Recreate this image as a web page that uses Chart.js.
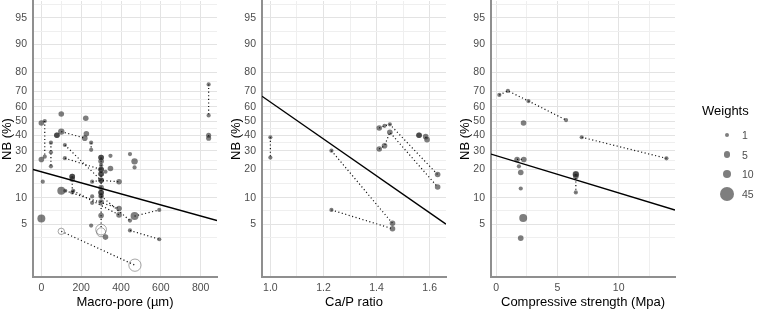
<!DOCTYPE html>
<html><head><meta charset="utf-8">
<script src="https://cdn.jsdelivr.net/npm/chart.js@4.4.0/dist/chart.umd.min.js"></script>
<style>
html,body{margin:0;padding:0;background:#fff;width:764px;height:310px;overflow:hidden;font-family:"Liberation Sans",Arial,sans-serif}
canvas{position:absolute;top:0}
#legend{position:absolute;left:0;top:0;width:764px;height:310px;opacity:0.995}
.lt{position:absolute;font-size:13px;color:#000;line-height:16px;white-space:nowrap}
.li{position:absolute;font-size:10.5px;color:#4d4d4d;line-height:12px;white-space:nowrap}
.dot{position:absolute;border-radius:50%;background:rgba(40,40,40,0.6)}
</style></head>
<body>
<canvas id="c1" width="229" height="310" style="left:0"></canvas>
<canvas id="c2" width="229" height="310" style="left:229px"></canvas>
<canvas id="c3" width="229" height="310" style="left:458px"></canvas>
<div id="legend"></div>
<script>
// ---------- DATA ----------
const nbTicks = [5, 10, 20, 30, 40, 50, 60, 70, 80, 90, 95];

// Panel 1: Macro-pore (µm)
const poreX = [840,840, 840,840, 0, 17,17, 0, 48,48,48, 100, 223, 78,78, 100,218, 226, 250,250,
  118,300, 118,300, 155,155,155, 155, 7, 100, 120,390, 160,390, 255,300,390,
  300,300,300,300,300,300,300,300,300,300,300,300, 300,300,300,
  322,347,347, 445,468,468, 300,445, 468,592, 0, 445,592, 250,322,255,255, 100,470];
const poreNB = [74,54, 40,38, 48.6, 50,26.5, 25, 35,29,21.5, 55, 52, 40,40, 42.5,38, 41, 35,30.5,
  33.5,15.5, 25.7,20, 17,16,11.5, 17, 15, 12, 12,7.6, 12,6.4, 15,15.5,15,
  26,24,22,20,18,13,11.5,10.5,9,6.3,4.3,4.0, 26,18,11.5,
  19,20.5,27, 28,24,21, 10.5,5.5, 6.2,7.3, 5.8, 4.2,3.3, 4.8,3.5,10.4,8.8, 4.1,1.6];
const poreW = [1,1, 2,2, 3, 1,1, 3, 1,1,1, 3, 3, 3,3, 5,3, 3, 1,1,
  1,3, 1,3, 3,3,1, 3, 1, 10, 1,3, 1,3, 1,3,3,
  3,3,1,3,3,3,3,3,3,3,22,14, 3,3,3,
  1,3,1, 1,5,1, 1,1, 10,1, 10, 1,1, 1,3,1,1, 5,30];
const poreStudy = [1,1, 2,2, 0, 3,3, 0, 4,4,4, 0, 0, 0,0, 5,5, 0, 6,6,
  7,7, 8,8, 9,9,9, 0, 0, 0, 10,10, 11,11, 12,12,12,
  13,13,13,13,13,13,13,13,13,13,13,0, 0,0,0,
  0,0,0, 0,0,0, 14,14, 15,15, 0, 16,16, 0,0,0,0, 17,17];
const poreOpen = [0,0, 0,0, 0, 0,0, 0, 0,0,0, 0, 0, 0,0, 0,0, 0, 0,0,
  0,0, 0,0, 0,0,0, 0, 0, 0, 0,0, 0,0, 0,0,0,
  0,0,0,0,0,0,0,0,0,0,1,1, 0,0,0,
  0,0,0, 0,0,0, 0,0, 0,0, 0, 0,0, 0,0,0,0, 1,1];
const poreFitX = [-42, 882];
const poreFitNB = [20, 5.5];
const poreTicks = [0, 200, 400, 600, 800];
const poreTickLabels = ['0', '200', '400', '600', '800'];

// Panel 2: Ca/P ratio
const capX = [1.0,1.0, 1.23,1.46, 1.23,1.46, 1.41,1.43,1.45,1.63, 1.41,1.43,1.45,1.63, 1.56,1.56, 1.585,1.59];
const capNB = [38.6,26, 30,5.1, 7.3,4.4, 45,46.6,47.6,17.8, 31,33,42,13.2, 40,40, 39,37];
const capW = [1,1, 1,3, 1,3, 3,1,1,3, 3,3,3,3, 3,3, 3,3];
const capStudy = [1,1, 2,2, 3,3, 4,4,4,4, 5,5,5,5, 0,0, 6,6];
const capFitX = [0.9685, 1.6615];
const capFitNB = [67, 5.0];
const capTicks = [1.0, 1.2, 1.4, 1.6];
const capTickLabels = ['1.0', '1.2', '1.4', '1.6'];

// Panel 3: Compressive strength (Mpa)
const csX = [0.25,0.95,2.63,5.7, 2.23, 6.98,13.9, 1.7,2.25, 1.85,2.0,2.0,2.2,2.0, 6.5,6.5,6.5, 6.5];
const csNB = [67.8,70.3,63.9,50.7, 48.6, 38.6,25.6, 25,25, 21.5,18.7,12.7,5.9,3.4, 17.9,17,11.5, 17.9];
const csW = [1,1,1,1, 3, 1,1, 3,3, 1,3,1,10,3, 5,3,1, 3];
const csStudy = [1,1,1,1, 0, 2,2, 3,3, 0,0,0,0,0, 4,4,4, 0];
const csFitX = [-0.43, 14.6];
const csFitNB = [28, 7.3];
const csTicks = [0, 5, 10];
const csTickLabels = ['0', '5', '10'];

// Legend
const legendTitle = 'Weights';
const legendW = [1, 5, 10, 45];

// ---------- HELPERS ----------
const FONT = '"Liberation Sans", Arial, sans-serif';
const logit = p => Math.log(p / (1 - p));
const expit = z => 1 / (1 + Math.exp(-z));
const Y_MIN = 100 * expit(-4.457), Y_MAX = 100 * expit(3.429);
const POINT_FILL = 'rgba(40,40,40,0.6)';
function rad(w) { return 2.1 + 5.3 * Math.pow(Math.max(0, (w - 1) / 44), 0.656); }

function gridValues(majors, f, finv, lo, hi) {
  const t = majors.map(f);
  const ext = [t[0] - (t[1] - t[0]), ...t, t[t.length - 1] + (t[t.length - 1] - t[t.length - 2])];
  const minors = [];
  for (let i = 0; i < ext.length - 1; i++) minors.push(finv((ext[i] + ext[i + 1]) / 2));
  return majors.concat(minors).filter(v => v > lo && v < hi).sort((a, b) => a - b);
}
const yGrid = gridValues(nbTicks, p => logit(p / 100), z => 100 * expit(z), Y_MIN, Y_MAX);

class LogitScale extends Chart.LinearScale {
  determineDataLimits() { this.min = this.options.min; this.max = this.options.max; }
  buildTicks() { return yGrid.map(v => ({ value: v })); }
  configure() {
    super.configure();
    this._lo = logit(this.min / 100); this._hi = logit(this.max / 100);
  }
  getPixelForValue(v) {
    return this.getPixelForDecimal((logit(v / 100) - this._lo) / (this._hi - this._lo));
  }
  getValueForPixel(px) {
    return 100 * expit(this._lo + this.getDecimalForPixel(px) * (this._hi - this._lo));
  }
}
LogitScale.id = 'logit';
LogitScale.defaults = Chart.LinearScale.defaults;
Chart.register(LogitScale);

const GRID_MAJOR = '#e3e3e3', GRID_MINOR = '#efefef';

function makeChart(id, c) {
  const datasets = [];
  datasets.push({ data: c.fitX.map((x, i) => ({ x, y: c.fitY[i] })), showLine: true,
    borderColor: '#000', borderWidth: 1.4, pointRadius: 0 });
  const groups = [...new Set(c.gs.filter(g => g > 0))];
  groups.forEach(g => {
    const pts = [];
    c.gs.forEach((gg, i) => { if (gg === g) pts.push({ x: c.xs[i], y: c.ys[i] }); });
    datasets.push({ data: pts, showLine: true, borderColor: '#111', borderWidth: 1.2,
      borderDash: [1.1, 2.5], pointRadius: 0 });
  });
  const openPts = [], fillPts = [];
  c.xs.forEach((x, i) => {
    const p = { x, y: c.ys[i], w: c.ws[i] };
    (c.open && c.open[i] ? openPts : fillPts).push(p);
  });
  datasets.push({ data: openPts, pointRadius: k => k.raw ? rad(k.raw.w) : 2,
    pointBackgroundColor: 'rgba(0,0,0,0)', pointBorderColor: 'rgba(70,70,70,0.6)', pointBorderWidth: 0.8 });
  datasets.push({ data: fillPts, pointRadius: k => k.raw ? rad(k.raw.w) : 2,
    pointBackgroundColor: POINT_FILL, pointBorderWidth: 0 });

  const xGrid = gridValues(c.xMajors, v => v, v => v, c.xMin, c.xMax);

  return new Chart(document.getElementById(id), {
    type: 'scatter',
    data: { datasets },
    options: {
      responsive: false, animation: false, events: [],
      layout: { padding: { left: 0, right: 12, top: 1, bottom: 0 }, autoPadding: false },
      plugins: { legend: { display: false }, tooltip: { enabled: false } },
      scales: {
        x: {
          type: 'linear', min: c.xMin, max: c.xMax,
          afterBuildTicks: s => { s.ticks = xGrid.map(v => ({ value: v })); },
          ticks: { autoSkip: false, maxRotation: 0, minRotation: 0, padding: 4.5, color: '#4d4d4d',
            font: { family: FONT, size: 10.5 },
            callback: v => { const k = c.xMajors.indexOf(v); return k >= 0 ? c.xLabels[k] : ''; } },
          grid: { drawTicks: false, lineWidth: 1,
            color: k => (k.tick && c.xMajors.includes(k.tick.value)) ? GRID_MAJOR : GRID_MINOR },
          border: { display: true, color: '#8f8f8f', width: 2 },
          title: { display: true, text: c.xTitle, color: '#000', font: { family: FONT, size: 13 }, padding: 0 },
          afterFit: s => { s.height = 33; s.paddingLeft = 0; s.paddingRight = 0; }
        },
        y: {
          type: 'logit', min: Y_MIN, max: Y_MAX,
          ticks: { autoSkip: false, padding: 6, color: '#4d4d4d', font: { family: FONT, size: 10.5 },
            callback: v => nbTicks.includes(v) ? String(v) : '' },
          grid: { drawTicks: false, lineWidth: 1,
            color: k => (k.tick && nbTicks.includes(k.tick.value)) ? GRID_MAJOR : GRID_MINOR },
          border: { display: true, color: '#8f8f8f', width: 2 },
          title: { display: true, text: 'NB (%)', color: '#000', font: { family: FONT, size: 13 }, padding: 0 },
          afterFit: s => { s.width = 33; s.paddingTop = 0; s.paddingBottom = 0; }
        }
      }
    }
  });
}

makeChart('c1', { xs: poreX, ys: poreNB, ws: poreW, gs: poreStudy, open: poreOpen,
  fitX: poreFitX, fitY: poreFitNB, xMin: -42, xMax: 882,
  xMajors: poreTicks, xLabels: poreTickLabels, xTitle: 'Macro-pore (µm)' });
makeChart('c2', { xs: capX, ys: capNB, ws: capW, gs: capStudy, open: null,
  fitX: capFitX, fitY: capFitNB, xMin: 0.9685, xMax: 1.6615,
  xMajors: capTicks, xLabels: capTickLabels, xTitle: 'Ca/P ratio' });
makeChart('c3', { xs: csX, ys: csNB, ws: csW, gs: csStudy, open: null,
  fitX: csFitX, fitY: csFitNB, xMin: -0.43, xMax: 14.6,
  xMajors: csTicks, xLabels: csTickLabels, xTitle: 'Compressive strength (Mpa)' });

// Legend (HTML, real text)
(function () {
  const L = document.getElementById('legend');
  const t = document.createElement('div');
  t.className = 'lt'; t.textContent = legendTitle;
  t.style.left = '702px'; t.style.top = '103px';
  L.appendChild(t);
  const rowY = [135, 154.5, 174, 194];
  legendW.forEach((w, i) => {
    const r = rad(w);
    const d = document.createElement('div');
    d.className = 'dot';
    d.style.left = (727 - r) + 'px'; d.style.top = (rowY[i] - r) + 'px';
    d.style.width = (2 * r) + 'px'; d.style.height = (2 * r) + 'px';
    L.appendChild(d);
    const s = document.createElement('div');
    s.className = 'li'; s.textContent = String(w);
    s.style.left = '742px'; s.style.top = (rowY[i] - 6) + 'px';
    L.appendChild(s);
  });
})();
</script>
</body></html>
